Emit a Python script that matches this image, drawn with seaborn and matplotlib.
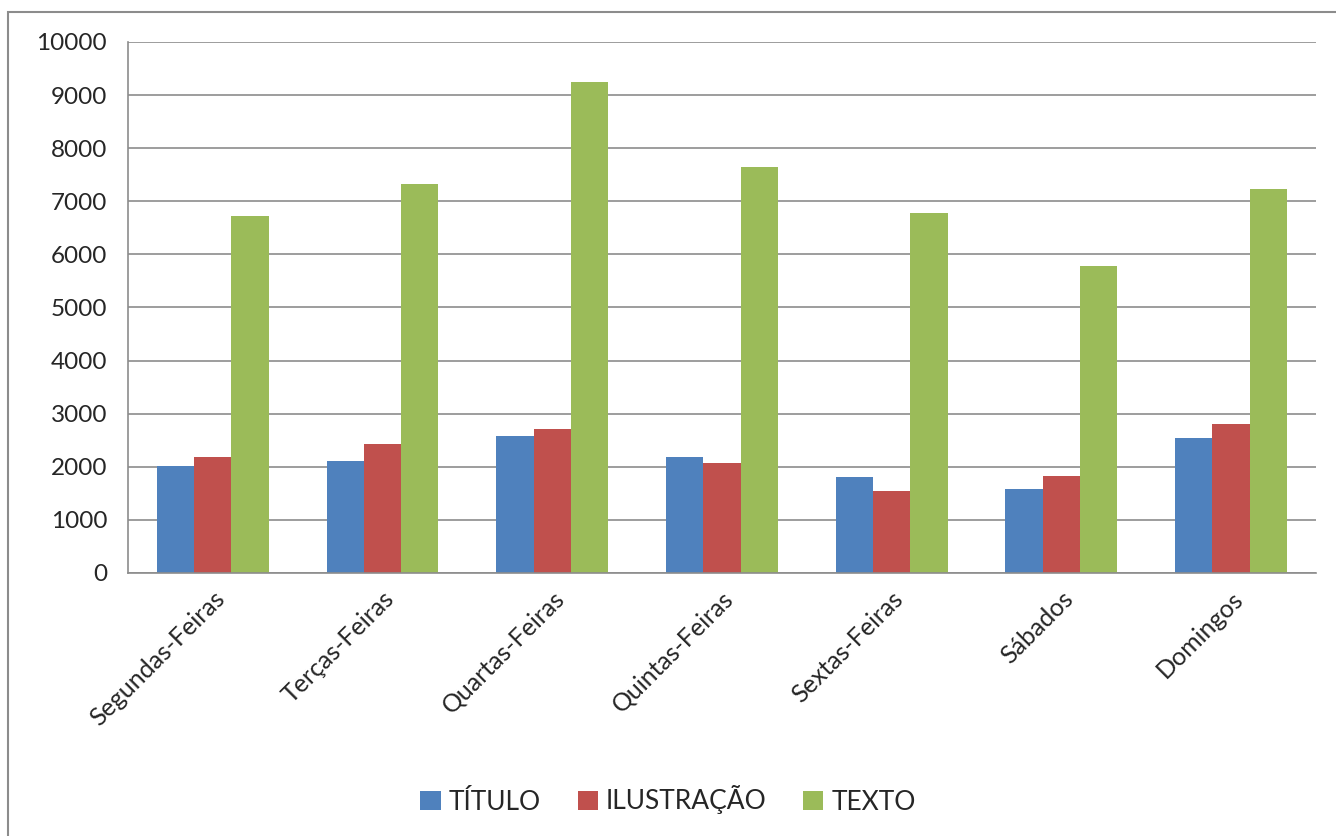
import pandas as pd
import seaborn as sns
import matplotlib.pyplot as plt
from matplotlib.patches import Rectangle

dias = ['Segundas-Feiras', 'Terças-Feiras', 'Quartas-Feiras', 'Quintas-Feiras',
        'Sextas-Feiras', 'Sábados', 'Domingos']
titulo = [2010, 2115, 2580, 2185, 1810, 1585, 2550]
ilustracao = [2185, 2435, 2705, 2065, 1535, 1830, 2805]
texto = [6730, 7330, 9255, 7650, 6780, 5785, 7235]
series = ['TÍTULO', 'ILUSTRAÇÃO', 'TEXTO']
cores = ['#4F81BD', '#C0504D', '#9BBB59']

df = pd.DataFrame({
    'dia': dias * 3,
    'serie': [series[0]] * 7 + [series[1]] * 7 + [series[2]] * 7,
    'valor': titulo + ilustracao + texto,
})

sns.set_style('white')
plt.rcParams['font.family'] = ['Lato', 'DejaVu Sans']

fig = plt.figure(figsize=(13.36, 8.36), dpi=100)
ax = fig.add_axes([0.0958, 0.3146, 0.889, 0.6352])

sns.barplot(data=df, x='dia', y='valor', hue='serie', palette=cores,
            width=0.66, saturation=1, linewidth=0, ax=ax, legend=True)

ax.set_ylim(0, 10000)
ax.set_xlim(-0.5, 6.5)
ax.set_yticks(range(0, 10001, 1000))
ax.yaxis.grid(True, color='#8c8c8c', linewidth=1.2)
ax.set_axisbelow(True)
ax.set_xlabel('')
ax.set_ylabel('')

ax.set_xticks(range(7))
ax.set_xticklabels(dias, rotation=45, ha='right', rotation_mode='anchor', fontsize=18)
ax.tick_params(axis='x', which='major', length=0, pad=10)
ax.set_xticks([i - 0.5 for i in range(8)], minor=True)
ax.tick_params(axis='x', which='minor', length=7, color='#8c8c8c', width=1.2)
ax.tick_params(axis='y', length=7, color='#8c8c8c', width=1.2, labelsize=17.5, pad=8)

for s in ['top', 'right']:
    ax.spines[s].set_visible(False)
for s in ['left', 'bottom']:
    ax.spines[s].set_color('#8c8c8c')
    ax.spines[s].set_linewidth(1.2)

handles, labels = ax.get_legend_handles_labels()
ax.legend(handles, labels, loc='center', bbox_to_anchor=(0.5, 36 / 836),
          bbox_transform=fig.transFigure, ncol=3, frameon=False, fontsize=19,
          handlelength=0.76, handleheight=0.76, handletextpad=0.3, columnspacing=1.4)

fig.patches.append(Rectangle((8 / 1336, -0.05), 1.1, (836 - 12) / 836 + 0.05,
                             transform=fig.transFigure, fill=False,
                             edgecolor='#8c8c8c', linewidth=1.5))

fig.savefig('out.png', dpi=100)
